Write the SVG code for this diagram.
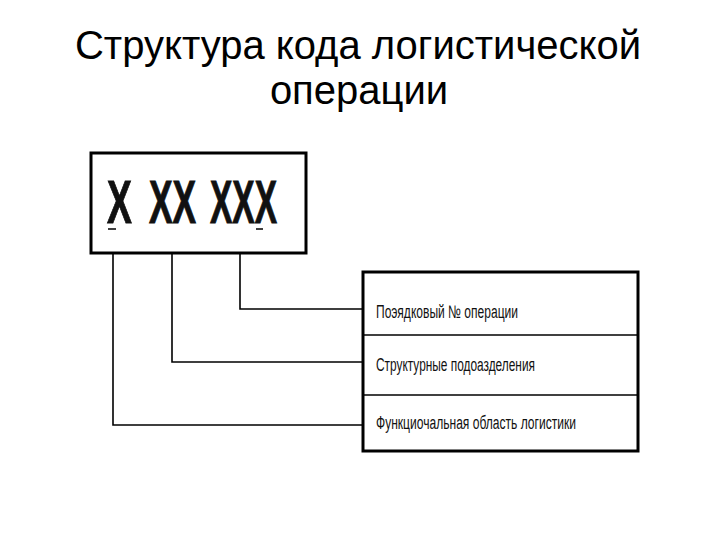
<svg xmlns="http://www.w3.org/2000/svg" width="720" height="540" viewBox="0 0 720 540">
<style>
.title{font-family:"Liberation Sans",Arial,sans-serif;font-size:40px;fill:#000;text-anchor:middle}
.code{font-family:"Liberation Sans",Arial,sans-serif;font-weight:bold;font-size:62px;fill:#111;stroke:#111;stroke-width:1}
.lbl{font-family:"Liberation Sans",Arial,sans-serif;font-size:18px;fill:#111}
.box{fill:#fff;stroke:#000;stroke-width:3}
.div{stroke:#000;stroke-width:1.5}
.conn{fill:none;stroke:#000;stroke-width:1.6}
</style>
<rect width="720" height="540" fill="#fff"/>
<text class="title" x="358" y="59">Структура кода логистической</text>
<text class="title" x="359" y="104">операции</text>
<g id="code-box">
<rect class="box" x="91" y="153" width="215" height="100"/>
<text class="code" transform="translate(107,223) scale(0.6,1)" x="0" y="0">X</text>
<text class="code" transform="translate(149,223) scale(0.57,1)" x="0" y="0">XX</text>
<text class="code" transform="translate(210,223) scale(0.54,1)" x="0" y="0">XXX</text>
<line x1="108" y1="229" x2="116" y2="229" stroke="#000" stroke-width="1.5"/>
<line x1="256" y1="229" x2="263" y2="229" stroke="#000" stroke-width="1.5"/>
</g>
<g id="connectors">
<polyline class="conn" points="240,253 240,309 362,309"/>
<polyline class="conn" points="172,253 172,362 362,362"/>
<polyline class="conn" points="113,253 113,425 362,425"/>
</g>
<g id="legend-box">
<rect class="box" x="363" y="272" width="275" height="179"/>
<line class="div" x1="363" y1="335" x2="638" y2="335"/>
<line class="div" x1="363" y1="395" x2="638" y2="395"/>
</g>
<g id="item-1"><text class="lbl" x="376" y="318" textLength="142" lengthAdjust="spacingAndGlyphs">Поэядковый № операции</text></g>
<g id="item-2"><text class="lbl" x="376" y="371" textLength="159" lengthAdjust="spacingAndGlyphs">Структурные подоазделения</text></g>
<g id="item-3"><text class="lbl" x="376" y="429" textLength="200" lengthAdjust="spacingAndGlyphs">Функциочальная область логистики</text></g>
</svg>
